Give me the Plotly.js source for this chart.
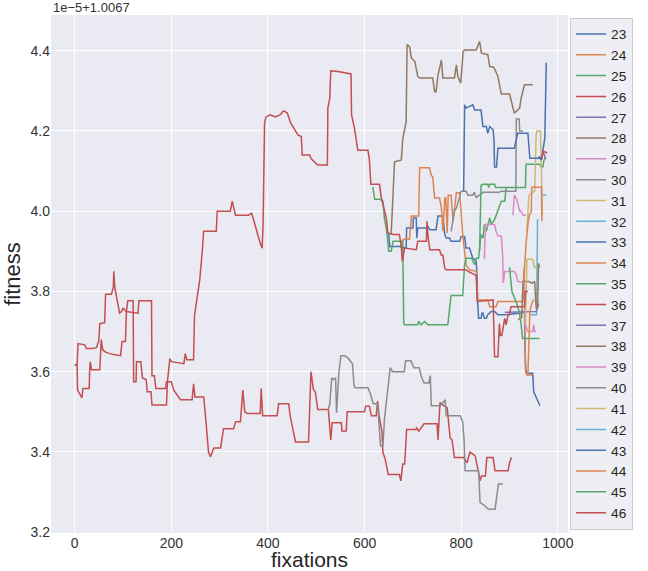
<!DOCTYPE html>
<html><head><meta charset="utf-8">
<script src="https://cdn.plot.ly/plotly-3.0.1.min.js"></script>
<style>html,body{margin:0;padding:0;background:#fff}#chart{width:648px;height:571px}</style>
</head><body><div id="chart"></div>
<script>
const seriesNames = ['23','24','25','26','27','28','29','30','31','32','33','34','35','36','37','38','39','40','41','42','43','44','45','46'];
const xTicks = [0,200,400,600,800,1000];
const yTicks = [3.2,3.4,3.6,3.8,4.0,4.2,4.4];
const offsetText = '1e\u22125+1.0067';

const x23 = [650,652,672,686,687,700,701,707,708,710,728,731,735,748,752,762,766,769,776,779,797,800,807,810,817,824,831,833,834,836,841,843,845,848,852,855,862,869,876,890,924,931,932,934,938,948,950,958,963];
const y23 = [3.946,3.912,3.912,3.908,3.958,3.958,3.983,3.983,3.933,3.958,3.958,3.962,3.954,3.954,3.988,3.988,3.942,3.933,3.933,3.925,3.925,3.937,3.937,3.908,3.908,3.883,3.875,3.833,3.775,3.733,3.733,3.746,3.746,3.733,3.733,3.742,3.75,3.75,3.742,3.742,3.746,3.75,3.65,3.6,3.596,3.596,3.55,3.53,3.515];
const x24 = [676,680,693,697,712,714,734,738,741,745,755,759,762,766,768,771,773,779,783,790,797,800,803,810,817,831,834,855,859,872,876,927,930,933,936,948];
const y24 = [3.912,3.93,3.93,3.988,3.988,4.108,4.108,4.09,4.085,4.033,4.033,4.008,3.95,4.033,4.033,3.946,4.04,4.04,3.975,4.046,4.046,3.983,3.942,3.867,3.854,3.85,3.779,3.779,3.762,3.762,3.775,3.775,3.86,3.6,3.592,3.592];
const x25 = [617,621,631,638,641,645,648,650,655,659,679,681,683,710,712,717,724,731,772,773,779,803,807,810,821,828,831,836,841,845,848,852,859,862,869,876,883,890,893,933,934,962,966,969,971,974];
const y25 = [4.06,4.03,4.03,4.025,3.983,3.958,3.925,3.9,3.9,3.925,3.925,3.72,3.717,3.717,3.725,3.717,3.725,3.717,3.717,3.725,3.79,3.79,3.867,3.883,3.883,3.867,3.883,3.883,3.942,3.933,3.967,3.95,3.983,3.967,3.979,4.0,4.025,4.025,4.059,4.059,4.117,4.117,4.11,4.11,4.125,4.134];
const x26 = [0,5,7,21,24,35,45,50,52,62,64,76,80,81,83,86,89,93,97,100,107,131,133,159,160,165,168,188,190,200,205,219,243,246,249,267,270,277,281,288,302,305,308,329,333,343,348,352,357,384,386,389,419,422,443,446,457,484,489,494,498,503,525,530,533,552,553,562,564,600,602,610,614,624,627,630,636,638,642,649,672,675,679,683,687,706,708,712,723,750,752,756,760,771,777,781,786,805,812,818,829,839,842,850,853,866,870,897,900,904];
const y26 = [3.617,3.617,3.67,3.667,3.658,3.658,3.66,3.677,3.72,3.722,3.793,3.793,3.81,3.85,3.81,3.79,3.77,3.746,3.75,3.758,3.75,3.746,3.777,3.777,3.59,3.59,3.558,3.558,3.575,3.575,3.554,3.53,3.53,3.57,3.537,3.537,3.5,3.4,3.388,3.41,3.41,3.433,3.458,3.458,3.475,3.475,3.554,3.5,3.496,3.496,3.558,3.49,3.49,3.52,3.52,3.49,3.425,3.425,3.6,3.556,3.55,3.506,3.506,3.43,3.473,3.473,3.452,3.452,3.5,3.5,3.514,3.514,3.49,3.49,3.527,3.49,3.45,3.398,3.385,3.344,3.344,3.328,3.37,3.37,3.456,3.456,3.46,3.452,3.47,3.47,3.43,3.523,3.52,3.51,3.435,3.43,3.386,3.386,3.373,3.4,3.39,3.328,3.34,3.34,3.386,3.386,3.353,3.353,3.373,3.386];
const x27 = [966,970,975];
const y27 = [4.13,4.148,4.13];
const x28 = [655,657,659,662,676,679,686,688,693,697,704,710,714,741,745,748,752,759,762,786,790,793,799,804,807,831,838,842,855,859,866,869,876,883,900,904,910,921,924,931,948];
const y28 = [3.942,3.99,4.048,4.123,4.128,4.18,4.223,4.415,4.41,4.382,4.373,4.336,4.332,4.332,4.298,4.298,4.34,4.377,4.332,4.332,4.365,4.336,4.319,4.398,4.402,4.402,4.423,4.394,4.39,4.36,4.36,4.355,4.336,4.292,4.292,4.27,4.244,4.257,4.282,4.315,4.315];
const x29 = [907,910,915,921,924,928,934];
const y29 = [3.99,4.04,4.03,4.0,4.0,3.99,3.99];
const x30 = [779,786,790,800,810,814,824,827,831,838,845,878,883,913,914,920,921,928];
const y30 = [3.95,4.0,4.008,4.05,4.05,4.04,4.04,4.047,4.034,4.04,4.047,4.047,4.05,4.05,4.23,4.23,4.2,4.2];
const x31 = [936,938,940,952,955,957,964,966,967,968];
const y31 = [3.95,4.0,4.04,4.05,4.19,4.2,4.2,4.1,4.02,3.99];
const x32 = [944,956,958];
const y32 = [3.742,3.742,3.98];
const x33 = [805,807,810,824,828,841,845,852,855,859,866,868,869,873,876,910,917,938,942,962,966,973,976];
const y33 = [4.05,4.265,4.257,4.265,4.252,4.252,4.211,4.211,4.194,4.211,4.203,4.173,4.11,4.11,4.157,4.157,4.194,4.194,4.132,4.132,4.128,4.182,4.37];
const x34 = [927,931,934,938,941,945,946,966,967];
const y34 = [3.775,3.86,3.917,3.967,3.99,4.0,4.06,4.06,3.975];
const x35 = [838,840,841,845,855,857,859,869,871,893];
const y35 = [3.9,3.977,4.064,4.067,4.067,4.059,4.067,4.067,4.059,4.059];
const x36 = [966,970,978];
const y36 = [4.13,4.15,4.145];
const x37 = [890,945,955,958,960];
const y37 = [3.748,3.75,3.75,3.76,3.77];
const x38 = [918,925,928,940,946,952,955,958,960,962];
const y38 = [3.73,3.735,3.825,3.825,3.82,3.825,3.76,3.76,3.87,3.86];
const x39 = [848,850,859,869,872,876,883,886,887,890,910,914,917,931,933,938,948,950,952,955];
const y39 = [3.88,3.967,3.967,3.967,3.95,3.938,3.938,3.883,3.821,3.85,3.85,3.842,3.825,3.821,3.717,3.7,3.7,3.717,3.7,3.7];
const x40 = [525,528,532,535,540,542,544,547,551,559,565,575,578,580,607,612,618,627,633,638,641,648,653,658,682,685,696,702,713,717,723,733,736,738,757,767,769,798,803,806,808,836,839,849,856,870,877,886];
const y40 = [3.506,3.52,3.585,3.58,3.585,3.498,3.54,3.6,3.64,3.64,3.635,3.62,3.568,3.56,3.56,3.545,3.52,3.52,3.415,3.415,3.48,3.55,3.61,3.6,3.6,3.627,3.627,3.61,3.61,3.59,3.572,3.572,3.59,3.515,3.515,3.53,3.49,3.49,3.475,3.43,3.353,3.353,3.274,3.266,3.257,3.257,3.32,3.32];
const x41 = [933,936,948,952,955];
const y41 = [3.72,3.88,3.88,3.86,3.86];
const x42 = [968,976];
const y42 = [4.04,4.04];
const x43 = [958,962,966];
const y43 = [4.13,4.135,4.128];
const x44 = [938,940,942,946,950];
const y44 = [3.592,3.65,3.75,3.77,3.78];
const x45 = [900,905,915,920,924,927,962];
const y45 = [3.86,3.8,3.77,3.75,3.717,3.683,3.683];
const x46 = [0,5,6,12,15,17,30,31,32,35,52,55,58,62,72,83,95,98,105,107,110,121,122,127,128,137,140,148,150,158,160,190,192,197,200,226,229,232,246,248,255,259,264,267,293,295,322,326,333,360,366,370,384,388,390,393,396,405,415,425,432,440,447,455,462,469,471,486,490,503,523,524,528,530,545,572,573,579,586,607,610,613,631,634,641,645,648,659,672,676,678,683,707,710,728,729,731,735,755,759,762,766,769,810,814,831,833,862,866,869,876,879,881,884,886,890,893,897,900,903,931,933,938];
const y46 = [3.617,3.617,3.554,3.54,3.535,3.558,3.558,3.6,3.625,3.605,3.605,3.68,3.655,3.65,3.645,3.642,3.64,3.675,3.675,3.75,3.777,3.777,3.575,3.575,3.625,3.625,3.585,3.58,3.55,3.55,3.517,3.517,3.575,3.633,3.625,3.62,3.645,3.63,3.63,3.74,3.8,3.83,3.9,3.95,3.95,4.0,4.0,4.025,3.99,3.99,3.995,3.98,3.92,3.908,3.97,4.22,4.235,4.24,4.235,4.24,4.25,4.245,4.22,4.205,4.19,4.186,4.14,4.14,4.13,4.115,4.115,4.257,4.282,4.35,4.348,4.342,4.24,4.207,4.152,4.152,4.128,4.067,4.067,4.037,4.0,3.983,3.946,3.942,3.942,3.912,3.875,3.908,3.904,3.925,3.925,3.975,3.942,3.904,3.904,3.89,3.89,3.858,3.854,3.854,3.85,3.84,3.775,3.779,3.779,3.637,3.637,3.72,3.69,3.69,3.708,3.733,3.717,3.742,3.742,3.762,3.762,3.8,3.8];

const xs = [x23,x24,x25,x26,x27,x28,x29,x30,x31,x32,x33,x34,x35,x36,x37,x38,x39,x40,x41,x42,x43,x44,x45,x46];
const ys = [y23,y24,y25,y26,y27,y28,y29,y30,y31,y32,y33,y34,y35,y36,y37,y38,y39,y40,y41,y42,y43,y44,y45,y46];
const palette = ['#4C72B0','#DD8452','#55A868','#C44E52','#8172B3','#937860','#DA8BC3','#8C8C8C','#CCB974','#64B5CD'];

const traces = seriesNames.map((n,i)=>({
  type:'scatter', mode:'lines', name:n, x:xs[i], y:ys[i],
  line:{color:palette[i%10], width:1.5}
}));

const font = 'Liberation Sans, Arial, sans-serif';
const layout = {
  width:648, height:571,
  margin:{l:51, r:80, t:15, b:38},
  paper_bgcolor:'#ffffff', plot_bgcolor:'#EAEAF2',
  font:{family:font, color:'#262626', size:14},
  showlegend:true,
  legend:{x:1.004, xanchor:'left', y:0.995, yanchor:'top', bgcolor:'#EEEEF4', bordercolor:'#CCCCCC', borderwidth:1,
    entrywidth:36, entrywidthmode:'pixels',
    font:{family:font, size:13.7, color:'#262626'}, tracegroupgap:0},
  xaxis:{range:[-49,1021], tickvals:xTicks, ticks:'', showgrid:true, gridcolor:'#FFFFFF', gridwidth:1, zeroline:false, showline:false,
    tickfont:{family:font, size:14, color:'#333333'},
    title:{text:'fixations', font:{family:font, size:21, color:'#262626'}, standoff:6}},
  yaxis:{range:[3.198,4.489], tickvals:yTicks, tickformat:'.1f', ticks:'', showgrid:true, gridcolor:'#FFFFFF', gridwidth:1, zeroline:false, showline:false,
    tickfont:{family:font, size:14, color:'#333333'},
    title:{text:'fitness', font:{family:font, size:22, color:'#262626'}, standoff:4}},
  annotations:[{text:offsetText, xref:'paper', yref:'paper', x:0, y:1, xanchor:'left', yanchor:'bottom', yshift:-2, showarrow:false,
    font:{family:font, size:13, color:'#333333'}}]
};
Plotly.newPlot('chart', traces, layout, {displayModeBar:false, staticPlot:true});
</script></body></html>
